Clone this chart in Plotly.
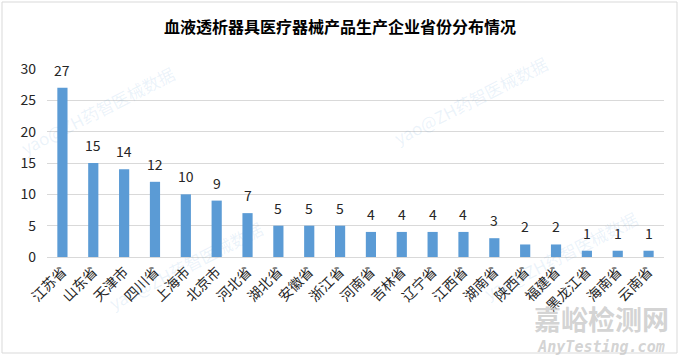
import plotly.graph_objects as go

title = "血液透析器具医疗器械产品生产企业省份分布情况"
provinces = ["江苏省", "山东省", "天津市", "四川省", "上海市", "北京市", "河北省", "湖北省",
             "安徽省", "浙江省", "河南省", "吉林省", "辽宁省", "江西省", "湖南省", "陕西省",
             "福建省", "黑龙江省", "海南省", "云南省"]
counts = [27, 15, 14, 12, 10, 9, 7, 5, 5, 5, 4, 4, 4, 4, 3, 2, 2, 1, 1, 1]
y_ticks = [0, 5, 10, 15, 20, 25, 30]

FONT = "Noto Sans CJK SC"

# plot area in pixels
L, R, T, B = 47, 664, 69, 257
W, H = 680, 356
pw, ph = R - L, B - T

def px(x):
    return (x - L) / pw

def py(y):
    return (B - y) / ph

fig = go.Figure()
fig.add_trace(go.Bar(
    x=provinces, y=counts,
    marker=dict(color="#5B9BD5", line=dict(width=0)),
    width=0.33,
    hoverinfo="x+y",
))

annotations = []
for p, c in zip(provinces, counts):
    annotations.append(dict(x=p, y=c, xref="x", yref="y", text=str(c), showarrow=False,
                            yanchor="bottom", yshift=6,
                            font=dict(family=FONT, size=14, color="#262626")))

# watermarks
wm = "yao@ZH药智医械数据"
for (cx, cy) in [(97, 110), (470, 100), (560, 255), (185, 265)]:
    annotations.append(dict(x=px(cx), y=py(cy), xref="paper", yref="paper", text=wm,
                            xanchor="center", yanchor="middle",
                            showarrow=False, textangle=-27,
                            font=dict(family=FONT, size=17, color="rgba(91,155,213,0.12)")))
annotations.append(dict(
    x=px(601), y=py(327), xref="paper", yref="paper",
    text="<span style='font-size:27px'><b>嘉峪检测网</b></span><br>"
         "<span style='font-family:DejaVu Sans Mono;font-size:15px'><b><i>AnyTesting.com</i></b></span>",
    xanchor="center", yanchor="middle", align="center",
    showarrow=False, font=dict(family=FONT, size=17, color="rgba(200,200,200,0.8)")))

fig.update_layout(
    width=W, height=H,
    margin=dict(l=L, r=W - R, t=T, b=H - B, autoexpand=False),
    paper_bgcolor="white", plot_bgcolor="white",
    title=dict(text="<b>" + title + "</b>", x=340 / W, xref="container", y=1 - 27 / H, yref="container",
               xanchor="center", yanchor="middle",
               font=dict(family=FONT, size=16, color="#000000")),
    showlegend=False,
    bargap=0.67,
    xaxis=dict(tickangle=-45, tickfont=dict(family=FONT, size=14, color="#262626"),
               showline=True, linecolor="#d9d9d9", linewidth=1, ticks="", showgrid=False,
               fixedrange=True, automargin=False),
    yaxis=dict(range=[0, 30], tickvals=y_ticks, showgrid=True, gridcolor="#d9d9d9", gridwidth=1,
               zeroline=False, showline=False, ticks="", ticklabelstandoff=10,
               tickfont=dict(family=FONT, size=14, color="#262626"), fixedrange=True,
               automargin=False),
    annotations=annotations,
    shapes=[dict(type="rect", xref="paper", yref="paper", x0=px(2), x1=px(677), y0=py(2), y1=py(353),
                 line=dict(color="#d9d9d9", width=1), fillcolor="rgba(0,0,0,0)", layer="below")],
)

fig.write_html("out.html", config={"displayModeBar": False},
               post_script="document.body.style.margin='0';document.body.style.overflow='hidden';")
